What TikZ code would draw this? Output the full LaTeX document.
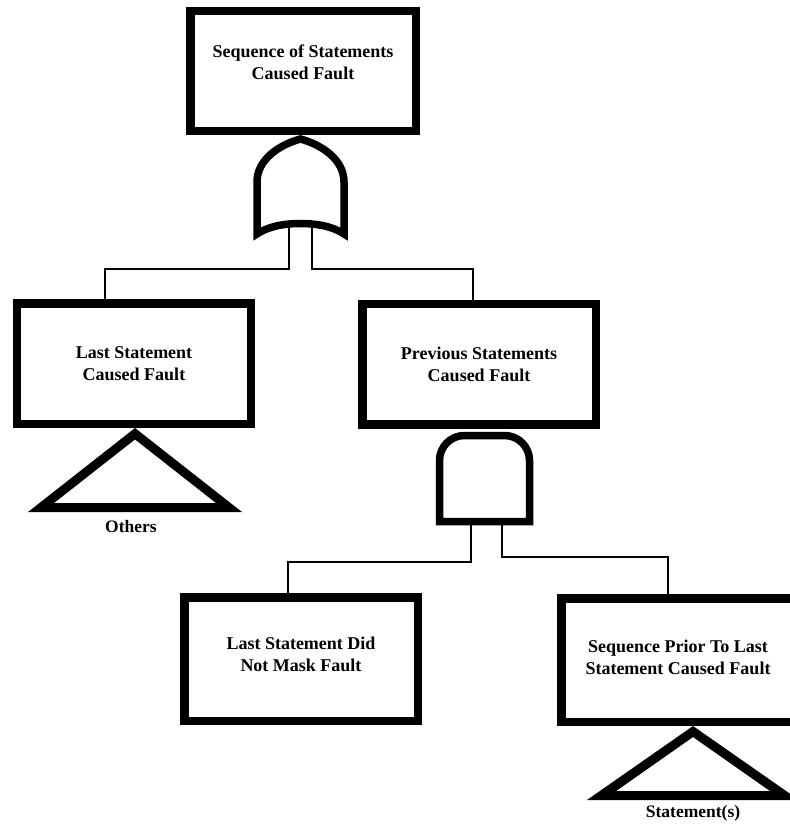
\documentclass[tikz,border=0pt]{standalone}
\usepackage{fontspec}
\setmainfont{Liberation Serif}
\tikzset{
  event/.style={draw=black, line width=8.5bp, rectangle, inner sep=0pt,
    minimum width=233.5bp, minimum height=120.5bp, align=center,
    font=\bfseries\fontsize{18bp}{22bp}\selectfont},
  link/.style={draw=black, line width=2.4bp},
  gateline/.style={draw=black, line width=7.5bp},
  lbl/.style={inner sep=0pt, font=\bfseries\fontsize{17.5bp}{21bp}\selectfont},
  % OR gate: pointed top, flat sides, arched bottom
  pics/orgate/.style={code={
    \draw[gateline, line join=miter]
      (-43.5,46) -- (-43.5,-6)
      .. controls (-43.5,-28) and (-22,-43) .. (0,-49)
      .. controls (22,-43) and (43.5,-28) .. (43.5,-6)
      -- (43.5,46)
      .. controls (30,37) and (12,35.5) .. (0,35.5)
      .. controls (-12,35.5) and (-30,37) .. (-43.5,46) -- cycle;
    \coordinate (-l) at (-11.5,36);
    \coordinate (-r) at (11.5,36);
  }},
  % AND gate: rounded dome on a flat base
  pics/andgate/.style={code={
    \draw[gateline, line join=miter]
      (-45,43) -- (-45,-18) arc[start angle=180, end angle=270, radius=25]
      -- (20,-43) arc[start angle=270, end angle=360, radius=25]
      -- (45,43) -- cycle;
    \coordinate (-l) at (-13.5,43);
    \coordinate (-r) at (17.5,43);
  }},
  % transfer triangle: half width, height, inner apex offset, inner half width
  pics/transfer/.style n args={4}{code={
    \fill[black, even odd rule]
      (0,0) -- (-#1,#2) -- (#1,#2) -- cycle
      (0,#3) -- (-#4,#2-9) -- (#4,#2-9) -- cycle;
    \coordinate (-base) at (0,#2);
  }}
}
\begin{document}
\begin{tikzpicture}[x=1bp, y=-1bp]
  \clip (0,0) rectangle (790,824);
  \fill[white] (0,0) rectangle (790,824);

  % events
  \node[event, minimum width=225.5bp, minimum height=119.5bp, text depth=18bp]
    (top) at (303,71) {Sequence of Statements\\Caused Fault};
  \node[event] (lb) at (134,363.5) {Last Statement\\Caused Fault};
  \node[event] (mb) at (479,364) {Previous Statements\\Caused Fault};
  \node[event, minimum height=123.5bp, text depth=10bp]
    (llb) at (301,659) {Last Statement Did\\Not Mask Fault};
  \node[event, minimum height=123.5bp, text depth=5bp]
    (lrb) at (678,660) {Sequence Prior To Last\\Statement Caused Fault};

  % gates
  \pic (g1) at (300.5,188) {orgate};
  \pic (g2) at (484.5,478.5) {andgate};

  % connectors
  \draw[link] (g1-l) -- ++(0,45) -| ([xshift=-29bp]lb.north);
  \draw[link] (g1-r) -- ++(0,45) -| ([xshift=-6bp]mb.north);
  \draw[link] (g2-l) -- ++(0,40.5) -| ([xshift=-13bp]llb.north);
  \draw[link] (g2-r) -- ++(0,35.5) -| ([xshift=-10bp]lrb.north);

  % transfer triangles
  \pic (t1) at (135,428) {transfer={107}{84}{11.44}{80.96}};
  \pic (t2) at (693,726) {transfer={106}{74}{11.03}{76.9}};
  \node[lbl, anchor=north] (others) at ([xshift=-4bp, yshift=-8bp]t1-base) {Others};
  \node[lbl, anchor=north] (stmts) at ([yshift=-5bp]t2-base) {Statement(s)};
\end{tikzpicture}
\end{document}
